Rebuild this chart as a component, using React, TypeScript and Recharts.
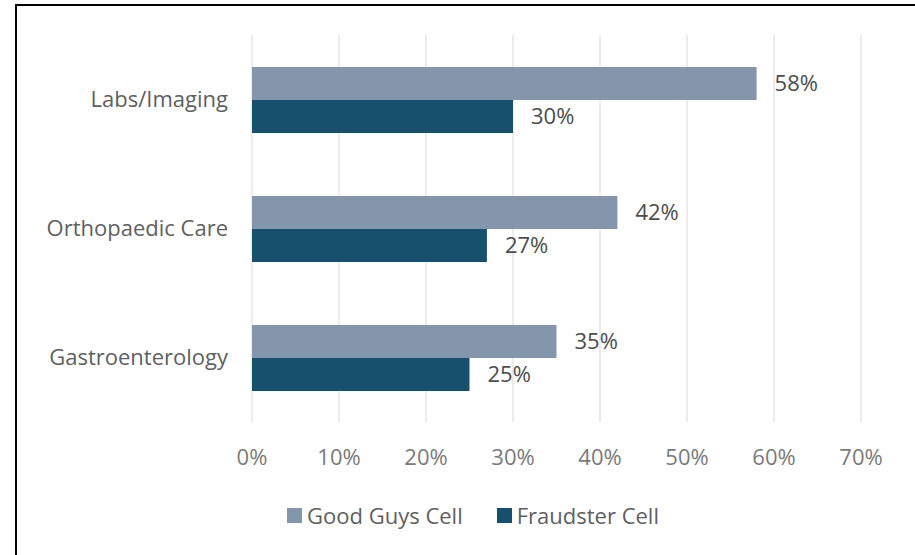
import { Bar, BarChart, CartesianGrid, LabelList, Legend, XAxis, YAxis } from "recharts";

const categories = ["Labs/Imaging", "Orthopaedic Care", "Gastroenterology"];
const goodGuys = [58, 42, 35];
const fraudster = [30, 27, 25];
const xTicks = [0, 10, 20, 30, 40, 50, 60, 70];

const data = categories.map((name, i) => ({ name, good: goodGuys[i], fraud: fraudster[i] }));

const FONT = "'Open Sans', sans-serif";
const GOOD = "#8496AC";
const FRAUD = "#17506D";

function LegendBox() {
  const items = [
    { label: "Good Guys Cell", color: GOOD },
    { label: "Fraudster Cell", color: FRAUD },
  ];
  return (
    <div style={{ display: "flex", justifyContent: "center", gap: 34, paddingTop: 20, paddingLeft: 14, fontFamily: FONT, fontSize: 22, color: "#5f5f5f" }}>
      {items.map((it) => (
        <div key={it.label} style={{ display: "flex", alignItems: "center", gap: 5 }}>
          <span style={{ width: 15, height: 15, background: it.color, display: "inline-block" }} />
          <span>{it.label}</span>
        </div>
      ))}
    </div>
  );
}

export default function App() {
  return (
    <div
      style={{
        position: "absolute",
        left: 15,
        top: 4,
        width: 898,
        height: 549,
        borderTop: "2px solid #000",
        borderLeft: "2px solid #000",
        background: "#fff",
      }}
    >
      <BarChart
        width={898}
        height={549}
        data={data}
        layout="vertical"
        margin={{ top: 29, right: 54, left: 0, bottom: 0 }}
        barGap={0}
      >
        <CartesianGrid horizontal={false} stroke="#D9D9D9" />
        <XAxis
          type="number"
          domain={[0, 70]}
          ticks={xTicks}
          tickFormatter={(v) => `${v}%`}
          axisLine={false}
          tickLine={false}
          tickMargin={21}
          height={58}
          tick={{ fill: "#7a7a7a", fontSize: 22, fontFamily: FONT }}
        />
        <YAxis
          type="category"
          dataKey="name"
          width={235}
          axisLine={false}
          tickLine={false}
          tickMargin={18}
          tick={{ fill: "#5f5f5f", fontSize: 22, fontFamily: FONT }}
        />
        <Legend
          verticalAlign="bottom"
          content={() => <LegendBox />}
          wrapperStyle={{ left: 0, width: 898, height: 75 }}
        />
        <Bar dataKey="good" name="Good Guys Cell" fill={GOOD} barSize={33} isAnimationActive={false}>
          <LabelList
            dataKey="good"
            position="right"
            offset={18}
            formatter={(v: number) => `${v}%`}
            style={{ fill: "#4d4d4d", fontSize: 22, fontFamily: FONT }}
          />
        </Bar>
        <Bar dataKey="fraud" name="Fraudster Cell" fill={FRAUD} barSize={33} isAnimationActive={false}>
          <LabelList
            dataKey="fraud"
            position="right"
            offset={18}
            formatter={(v: number) => `${v}%`}
            style={{ fill: "#4d4d4d", fontSize: 22, fontFamily: FONT }}
          />
        </Bar>
      </BarChart>
    </div>
  );
}
